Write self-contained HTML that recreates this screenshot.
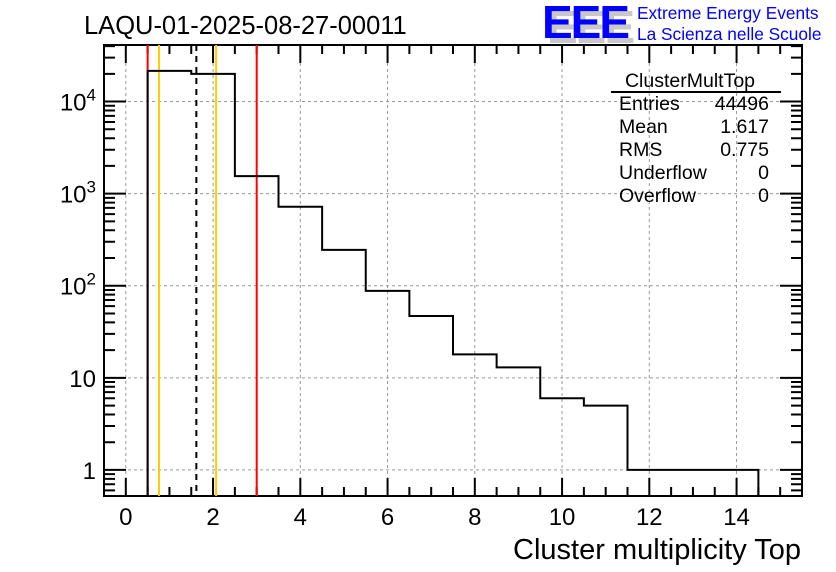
<!DOCTYPE html>
<html><head><meta charset="utf-8"><style>
body{margin:0;background:#fff}
svg{display:block;font-family:"Liberation Sans",sans-serif}
</style></head><body>
<svg id="c" width="836" height="572" viewBox="0 0 836 572">
<g id="grid"></g><g id="axes"></g><g id="markers"></g><g id="marks"></g>
<text x="84" y="34" font-size="25.5">LAQU-01-2025-08-27-00011</text>
<g>
<text x="547" y="43" font-size="46" font-weight="bold" fill="#c8c8c8" letter-spacing="-2">EEE</text>
<text x="542" y="38" font-size="46" font-weight="bold" fill="#0000ff" letter-spacing="-2">EEE</text>
<text x="637" y="19" font-size="17.3" fill="#0000ff">Extreme Energy Events</text>
<text x="637" y="40" font-size="17.3" fill="#0000ff">La Scienza nelle Scuole</text>
</g>
<g font-size="19.5">
<text x="690" y="87" text-anchor="middle">ClusterMultTop</text>
<line x1="611" y1="92" x2="781" y2="92" stroke="#000" stroke-width="2"/>
<text x="619" y="110">Entries</text><text x="769" y="110" text-anchor="end">44496</text>
<text x="619" y="133">Mean</text><text x="769" y="133" text-anchor="end">1.617</text>
<text x="619" y="156">RMS</text><text x="769" y="156" text-anchor="end">0.775</text>
<text x="619" y="179">Underflow</text><text x="769" y="179" text-anchor="end">0</text>
<text x="619" y="202">Overflow</text><text x="769" y="202" text-anchor="end">0</text>
</g>
<text x="801" y="559" font-size="29" text-anchor="end">Cluster multiplicity Top</text>
</svg>
<script>
const binEdgesLow = [0.5,1.5,2.5,3.5,4.5,5.5,6.5,7.5,8.5,9.5,10.5,11.5,12.5,13.5];
const counts = [21500,20000,1550,720,245,88,47,18,13,6,5,1,1,1];
const xTickLabels = ["0","2","4","6","8","10","12","14"];
const xTickValues = [0,2,4,6,8,10,12,14];
const yTickValues = [1,10,100,1000,10000];
const yTickLabels = ["1","10","10^2","10^3","10^4"];
const markerValues = [0.5,0.76,1.617,2.07,3.0];
const markerColors = ["#ff0000","#ffcc00","#000000","#ffcc00","#ff0000"];

const L=104,R=802,T=45,B=496;
const xMin=-0.5,xMax=15.5,lMin=-0.283,lMax=4.614;
const X=v=>L+(v-xMin)/(xMax-xMin)*(R-L);
const Y=v=>B-(Math.log10(v)-lMin)/(lMax-lMin)*(B-T);
const NS="http://www.w3.org/2000/svg";
function mk(tag,attrs,parent){const e=document.createElementNS(NS,tag);for(const k in attrs)e.setAttribute(k,attrs[k]);document.getElementById(parent).appendChild(e);return e;}

xTickValues.forEach(v=>{const g=mk('line',{x1:X(v),x2:X(v),y1:T,y2:B,stroke:'#999','stroke-dasharray':'3,3','stroke-width':1},'grid');

});
yTickValues.forEach(v=>{const g=mk('line',{x1:L,x2:R,y1:Y(v),y2:Y(v),stroke:'#999','stroke-dasharray':'3,3','stroke-width':1},'grid');

});

let d='M'+X(binEdgesLow[0])+','+B;
binEdgesLow.forEach((lo,i)=>{d+=' L'+X(lo)+','+Y(counts[i])+' L'+X(lo+1)+','+Y(counts[i]);});
d+=' L'+X(binEdgesLow[binEdgesLow.length-1]+1)+','+B;
const h=mk('path',{d:d,fill:'none',stroke:'#000','stroke-width':2},'marks');



markerValues.forEach((v,i)=>{const m=mk('line',{x1:X(v),x2:X(v),y1:T,y2:B,stroke:markerColors[i],'stroke-width':2},'markers');
if(i==2)m.setAttribute('stroke-dasharray','6,5');

});

const f=mk('rect',{x:L,y:T,width:R-L,height:B-T,fill:'none',stroke:'#000','stroke-width':2},'axes');


let td='';
for(let v=-0.5;v<=15.5;v+=0.5){const maj=Math.abs(v%2)<1e-9;const len=maj?18:9;const x=X(v);
td+=`M${x},${B}v${-len}M${x},${T}v${len}`;}
for(let e=-1;e<=4;e++)for(let k=1;k<=9;k++){const v=k*Math.pow(10,e);const lv=Math.log10(v);if(lv<lMin||lv>lMax)continue;
const len=k==1?22:11;const y=Y(v);td+=`M${L},${y}h${len}M${R},${y}h${-len}`;}
const t=mk('path',{d:td,stroke:'#000','stroke-width':2,fill:'none'},'axes');


xTickValues.forEach((v,i)=>{const tx=mk('text',{x:X(v),y:525,'font-size':24,'text-anchor':'middle'},'axes');tx.textContent=xTickLabels[i];

});
yTickValues.forEach((v,i)=>{const lab=yTickLabels[i];const tx=mk('text',{x:96,y:Y(v)+9,'font-size':24,'text-anchor':'end'},'axes');
if(lab.indexOf('^')>0){const p=lab.split('^');tx.textContent=p[0];const s=document.createElementNS(NS,'tspan');s.setAttribute('dy','-10');s.setAttribute('font-size','17');s.textContent=p[1];tx.appendChild(s);tx.setAttribute('x',96);}
else tx.textContent=lab;

});
</script>
</body></html>
